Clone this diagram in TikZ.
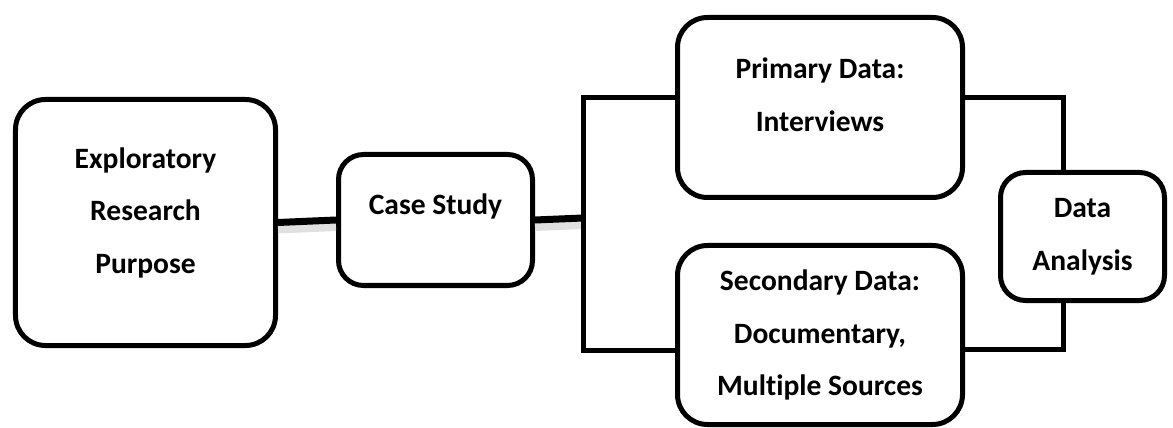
\documentclass[tikz,border=0pt]{standalone}
\usepackage{fontspec}
\setmainfont[Ligatures=NoCommon]{Carlito}
\tikzstyle{mBox}=[draw=black, line width=1mm, rounded corners=5mm, align=center, inner sep=0pt, font=\bfseries\fontsize{16.8}{30}\selectfont]
\tikzstyle{link}=[line width=1mm, line cap=rect]

\begin{document}
\begin{tikzpicture}[x=0.2mm, y=-0.2mm, thick link/.style={line width=1.4mm}, shade link/.style={line width=1.6mm, black!12}]
        \useasboundingbox (0,0) rectangle (1173,428);

        \node[mBox, rounded corners=6mm, minimum width=52mm, minimum height=49.2mm, text depth=4.8mm] (b1) at (145.5,222.5) {Exploratory\\Research\\Purpose};
        \node[mBox, minimum width=38.8mm, minimum height=26.2mm, text depth=6.2mm] (b2) at (435.5,220) {Case Study};
        \node[mBox, rounded corners=6mm, minimum width=57mm, minimum height=36mm, text depth=5mm] (b3) at (820,107.5) {Primary Data:\\Interviews};
        \node[mBox, rounded corners=6mm, minimum width=57mm, minimum height=35.8mm] (b4) at (820,335) {Secondary Data:\\Documentary,\\Multiple Sources};
        \node[mBox, minimum width=32.8mm, minimum height=25.6mm] (b5) at (1082.5,236.5) {Data\\Analysis};

        \coordinate (fork) at (583,218);
        \coordinate (ltop) at (583,98);
        \coordinate (lbot) at (583,351);
        \coordinate (rtop) at (1063,98);
        \coordinate (rbot) at (1063,350);

        \draw[shade link] ([yshift=-1.4mm]b1.east) -- ([yshift=-1.4mm]b2.west);
        \draw[shade link] ([yshift=-1.4mm]b2.east) -- ([yshift=-1.4mm]fork);
        \draw[thick link] (b1.east) -- (b2.west);
        \draw[thick link] (b2.east) -- (fork);

        \draw[link] (b3.west |- ltop) -- (ltop) -- (lbot) -- (b4.west |- lbot);
        \draw[link] (b3.east |- rtop) -- (rtop) -- (b5.north -| rtop);
        \draw[link] (b4.east |- rbot) -- (rbot) -- (b5.south -| rbot);
\end{tikzpicture}
\end{document}
